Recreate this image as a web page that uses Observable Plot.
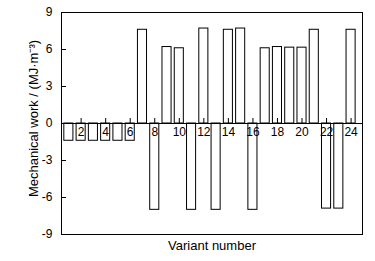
<!DOCTYPE html>
<html>
<head>
<meta charset="utf-8">
<script src="https://cdn.jsdelivr.net/npm/d3@7"></script>
<script src="https://cdn.jsdelivr.net/npm/@observablehq/plot@0.6"></script>
<style>
  html, body { margin: 0; padding: 0; background: #fff; }
  #chart { width: 375px; height: 261px; }
</style>
</head>
<body>
<div id="chart"></div>
<script>
const variants = [1,2,3,4,5,6,7,8,9,10,11,12,13,14,15,16,17,18,19,20,21,22,23,24];
const work = [-1.4,-1.4,-1.4,-1.4,-1.4,-1.4,7.6,-7.0,6.2,6.1,-7.0,7.7,-7.0,7.6,7.7,-7.0,6.1,6.2,6.15,6.15,7.6,-6.9,-6.9,7.6];
const xTickLabels = [2,4,6,8,10,12,14,16,18,20,22,24];
const yTicks = [-9,-6,-3,0,3,6,9];
const yTitle = "Mechanical work / (MJ·m⁻³)";
const xTitle = "Variant number";

const data = variants.map((v, i) => ({v, w: work[i]}));
const halfW = 0.37;

const chart = Plot.plot({
  width: 375,
  height: 261,
  marginLeft: 61,
  marginRight: 13,
  marginTop: 12,
  marginBottom: 27,
  style: {fontFamily: "'Liberation Sans', Arial, sans-serif", fontSize: "12px", color: "#000", background: "#fff"},
  x: {domain: [0.4, 24.93], axis: null},
  y: {domain: [-9, 9], axis: null},
  marks: [
    Plot.rectY(data, {x1: d => d.v - halfW, x2: d => d.v + halfW, y1: 0, y2: "w", fill: "white", stroke: "black", strokeWidth: 1}),
    Plot.ruleY([0], {stroke: "black"}),
    Plot.tickX(xTickLabels, {x: d => d, stroke: "black", insetTop: 106, insetBottom: 111}),
    Plot.text(xTickLabels, {x: d => d, y: 0, dy: 9, text: d => String(d), fontSize: 12, fill: "black"}),
    Plot.tickY(yTicks, {y: d => d, stroke: "black", insetRight: 296}),
    Plot.axisY({ticks: yTicks, tickSize: 0, tickPadding: 9, label: null, tickFormat: d => String(d), fontSize: 12}),
    Plot.frame({stroke: "black"}),
    Plot.text([yTitle], {frameAnchor: "left", textAnchor: "middle", lineAnchor: "middle", rotate: -90, dx: -28, dy: -5, fontSize: 13, fill: "black"}),
    Plot.text([xTitle], {frameAnchor: "bottom", textAnchor: "middle", lineAnchor: "middle", dy: 11, fontSize: 13, fill: "black"})
  ]
});
document.getElementById("chart").appendChild(chart);
</script>
</body>
</html>
